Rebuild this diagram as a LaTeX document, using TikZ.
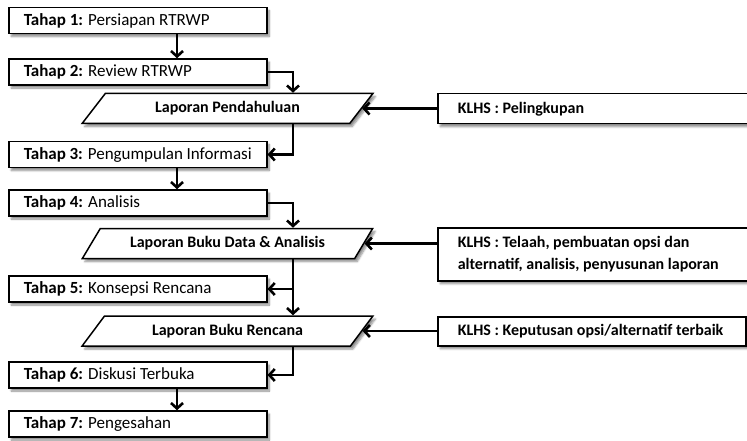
\documentclass[tikz,border=0pt]{standalone}
\usepackage{fontspec}
\setmainfont{Carlito}
\usetikzlibrary{arrows.meta,shapes.geometric,shadows.blur}
\begin{document}
\begin{tikzpicture}[x=1pt,y=-1pt,
 shad/.style={blur shadow={shadow xshift=2.5pt,shadow yshift=-3pt,shadow blur steps=6,shadow opacity=45}},
 tahap/.style={draw,line width=1.5pt,fill=white,shad,rectangle,anchor=west,text width=228pt,inner xsep=15pt,inner ysep=0pt,minimum height=26pt,align=flush left,font=\fontsize{17}{20}\selectfont},
 lap/.style={draw,line width=1.5pt,fill=white,shad,trapezium,trapezium left angle=45,trapezium right angle=135,trapezium stretches=true,minimum width=291pt,minimum height=30pt,inner sep=0pt,font=\bfseries\fontsize{16}{20}\selectfont},
 klhs/.style={draw,line width=1.5pt,fill=white,shad,rectangle,anchor=north west,inner xsep=20pt,inner ysep=0pt,align=flush left,font=\bfseries\fontsize{16}{22}\selectfont},
 arr/.style={line width=2.6pt,-{Straight Barb[length=5.5pt,width=12pt]}}]
\useasboundingbox (0,0) rectangle (747,441);
\coordinate (colA) at (177,0);
\coordinate (colB) at (293,0);
\node[tahap] (T1) at (8,20.5) {\textbf{Tahap 1:} Persiapan RTRWP};
\node[tahap] (T2) at (8,72) {\textbf{Tahap 2:} Review RTRWP};
\node[lap] (LP) at (227.5,108.5) {Laporan Pendahuluan};
\node[tahap] (T3) at (8,154.5) {\textbf{Tahap 3:} Pengumpulan Informasi};
\node[tahap] (T4) at (8,203) {\textbf{Tahap 4:} Analisis};
\node[lap] (LBD) at (227.5,243.5) {Laporan Buku Data \& Analisis};
\node[tahap] (T5) at (8,289) {\textbf{Tahap 5:} Konsepsi Rencana};
\node[lap] (LBR) at (227.5,331) {Laporan Buku Rencana};
\node[tahap] (T6) at (8,375) {\textbf{Tahap 6:} Diskusi Terbuka};
\node[tahap] (T7) at (8,424) {\textbf{Tahap 7:} Pengesahan};
\node[klhs,minimum height=30pt,text width=275pt] (K1) at (437,93) {KLHS : Pelingkupan};
\node[klhs,minimum height=53pt,text width=275pt] (K2) at (437,227) {KLHS : Telaah, pembuatan opsi dan\\alternatif, analisis, penyusunan laporan};
\node[klhs,minimum height=29pt,text width=268pt] (K3) at (437,316) {KLHS : Keputusan opsi/alternatif terbaik};
\draw[arr] (T1.south -| colA) -- (T2.north -| colA);
\draw[arr] (T2.east) -| (LP.north -| colB);
\draw[arr] (LP.south -| colB) |- (T3.east);
\draw[arr] (T3.south -| colA) -- (T4.north -| colA);
\draw[arr] (T4.east) -| (LBD.north -| colB);
\draw[arr] (LBD.south -| colB) |- (T5.east);
\draw[arr] (T5.east) -| (LBR.north -| colB);
\draw[arr] (LBR.south -| colB) |- (T6.east);
\draw[arr] (T6.south -| colA) -- (T7.north -| colA);
\draw[arr] (K1.west |- LP.east) -- (LP.east);
\draw[arr] (K2.west |- LBD.east) -- (LBD.east);
\draw[arr] (K3.west |- LBR.east) -- (LBR.east);
\end{tikzpicture}
\end{document}
